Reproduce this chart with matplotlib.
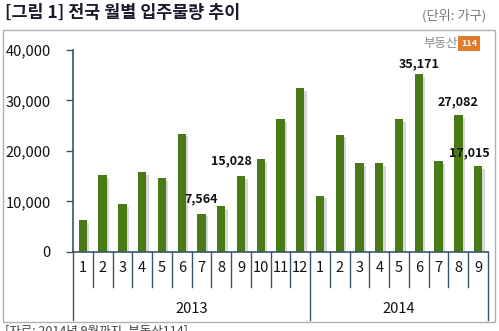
import matplotlib
matplotlib.use('Agg')
import matplotlib.pyplot as plt
from matplotlib.patches import Rectangle
import numpy as np

plt.rcParams['font.family'] = ['Noto Sans CJK KR', 'DejaVu Sans']

# monthly move-in volume (households)
months = ['1', '2', '3', '4', '5', '6', '7', '8', '9', '10', '11', '12',
          '1', '2', '3', '4', '5', '6', '7', '8', '9']
years = ['2013', '2014']
year_counts = [12, 9]
values = [6300, 15200, 9500, 15800, 14600, 23400, 7564, 9100, 15028, 18400, 26300, 32400,
          11100, 23200, 17600, 17600, 26300, 35171, 18000, 27082, 17015]

# bars that carry a value label, with label offset (points)
labelled = {6: (0, 6), 8: (-7, 6), 17: (0, 3), 19: (0, 5), 20: (-6, 5)}

bar_col = '#4a7a16'
shadow_col = '#d6d6d6'
axis_col = '#3a5566'

fig = plt.figure(figsize=(4.99, 3.31), dpi=100)
ax = fig.add_axes([0.1463, 0.2387, 0.8317, 0.6103])

x = np.arange(len(values))
vals = np.array(values)
w = 0.42
ax.bar(x + 0.12, vals - 500, width=w, color=shadow_col, zorder=1)
ax.bar(x, vals, width=w, color=bar_col, zorder=2)

for i, (dx, dy) in labelled.items():
    ax.annotate(f'{values[i]:,}', (x[i], values[i]), xytext=(dx, dy),
                textcoords='offset points', ha='center', va='bottom',
                fontsize=9, fontweight='bold', color='#111111')

ax.set_xlim(-0.5, len(values) - 0.5)
ax.set_ylim(0, 40000)
ax.set_yticks([0, 10000, 20000, 30000, 40000])
ax.set_yticklabels([f'{v:,}' for v in [0, 10000, 20000, 30000, 40000]])
ax.tick_params(axis='y', length=5, width=1, color=axis_col, pad=11, labelsize=10.5,
               labelcolor='#111111')
ax.tick_params(axis='x', length=0, labelbottom=False)

for s in ['top', 'right']:
    ax.spines[s].set_visible(False)
ax.spines['left'].set_color(axis_col)
ax.spines['bottom'].set_color(axis_col)
ax.spines['left'].set_linewidth(1.2)
ax.spines['bottom'].set_linewidth(1.2)

# two-level category axis
tr = ax.get_xaxis_transform()
for i, m in enumerate(months):
    ax.text(x[i], -0.079, m, transform=tr, ha='center', va='center',
            fontsize=10.5, color='#111111')
year_edges = np.cumsum([0] + year_counts) - 0.5
for k in range(len(months) + 1):
    edge = k - 0.5
    low = -0.337 if edge in year_edges else -0.173
    ax.plot([edge, edge], [0, low], transform=tr, color=axis_col, lw=1, clip_on=False)
for j, yr in enumerate(years):
    mid = (year_edges[j] + year_edges[j + 1]) / 2
    ax.text(mid, -0.282, yr, transform=tr, ha='center', va='center',
            fontsize=10.5, color='#111111')

# frame and header texts
fig.patches.append(Rectangle((0.006, 0.027), 0.986, 0.882, transform=fig.transFigure,
                             fill=False, edgecolor='#b0b0b0', lw=1))
fig.text(0.01, 0.962, '[그림 1] 전국 월별 입주물량 추이', fontsize=12.5, fontweight='bold',
         color='#1a1a2a', ha='left', va='center')
fig.text(0.975, 0.952, '(단위: 가구)', fontsize=9.5, color='#777777', ha='right', va='center')
fig.text(0.918, 0.868, '부동산', fontsize=9, color='#8a8a8a', ha='right', va='center')
fig.text(0.940, 0.868, '114', fontsize=6.5, color='white', fontweight='bold', ha='center',
         va='center', bbox=dict(boxstyle='square,pad=0.3', fc='#e07c2c', ec='none'))
fig.text(0.01, 0.0, '[자료: 2014년 9월까지, 부동산114]', fontsize=9, color='#444444',
         ha='left', va='center')

fig.savefig('out.png', dpi=100)
